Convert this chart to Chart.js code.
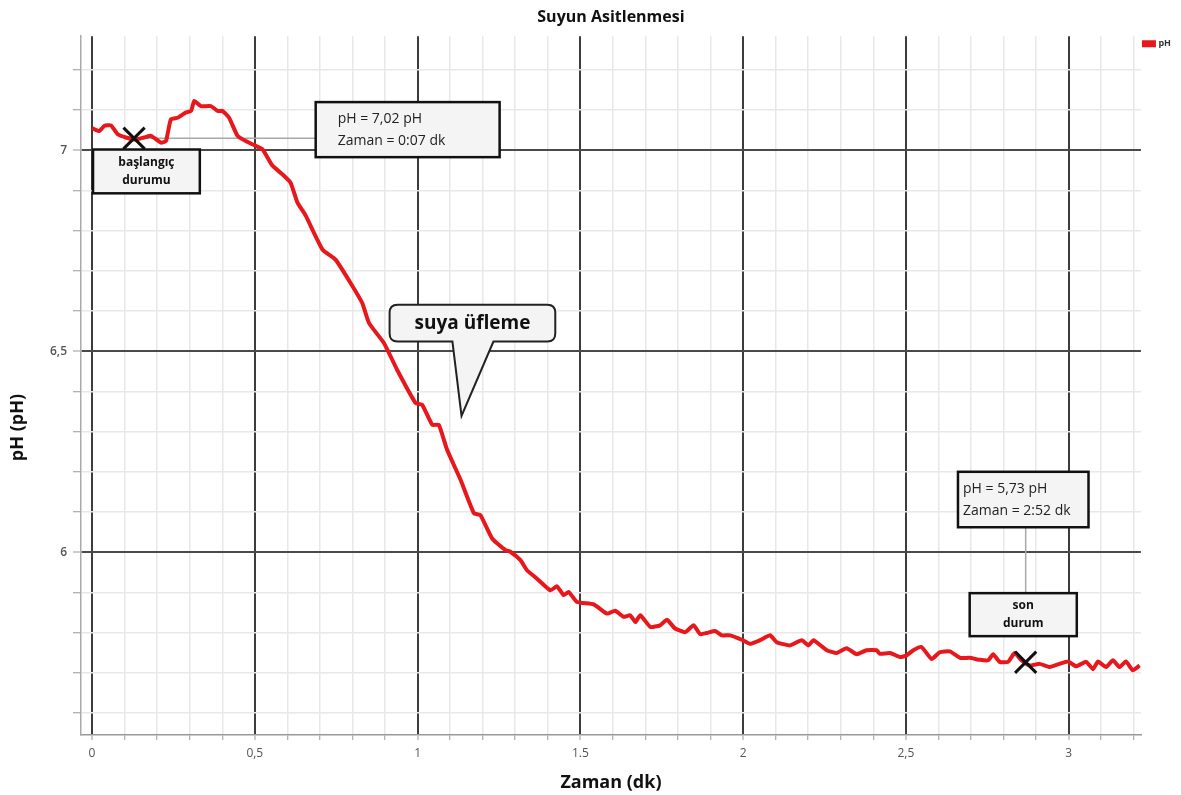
<!DOCTYPE html>
<html>
<head>
<meta charset="utf-8">
<title>Suyun Asitlenmesi</title>
<script src="https://cdn.jsdelivr.net/npm/chart.js@4.4.1/dist/chart.umd.min.js"></script>
<style>
  html, body { margin: 0; padding: 0; background: #fff; }
  #wrap { width: 1181px; height: 795px; }
</style>
</head>
<body>
<div id="wrap"><canvas id="chart"></canvas></div>
<script>
// time (dk) and pH readings
const times = [0, 0.022, 0.038, 0.058, 0.079, 0.104, 0.135, 0.16, 0.181, 0.212, 0.227, 0.242, 0.263, 0.288, 0.304,
  0.314, 0.334, 0.365, 0.386, 0.401, 0.421, 0.447, 0.472, 0.503, 0.524, 0.554, 0.585, 0.61, 0.631, 0.656,
  0.708, 0.748, 0.794, 0.83, 0.851, 0.897, 0.937, 0.994, 1.014, 1.045, 1.065, 1.091, 1.132, 1.173, 1.193,
  1.229, 1.27, 1.285, 1.316, 1.336, 1.367, 1.408, 1.428, 1.449, 1.464, 1.49, 1.541, 1.582, 1.607, 1.633,
  1.653, 1.669, 1.684, 1.715, 1.745, 1.766, 1.791, 1.822, 1.848, 1.868, 1.889, 1.914, 1.935, 1.96, 1.996,
  2.021, 2.052, 2.083, 2.103, 2.144, 2.18, 2.201, 2.216, 2.257, 2.287, 2.318, 2.349, 2.379, 2.41, 2.42,
  2.451, 2.482, 2.502, 2.523, 2.548, 2.579, 2.604, 2.635, 2.666, 2.696, 2.727, 2.753, 2.768, 2.788, 2.814,
  2.834, 2.855, 2.88, 2.911, 2.942, 2.972, 2.998, 3.023, 3.054, 3.075, 3.09, 3.115, 3.136, 3.156, 3.176,
  3.197, 3.218];
const phValues = [7.055, 7.048, 7.061, 7.062, 7.04, 7.032, 7.027, 7.032, 7.036, 7.019, 7.023, 7.077, 7.081, 7.094, 7.098,
  7.123, 7.11, 7.11, 7.098, 7.098, 7.081, 7.036, 7.023, 7.011, 7.002, 6.962, 6.94, 6.919, 6.87, 6.838,
  6.753, 6.728, 6.67, 6.62, 6.57, 6.52, 6.454, 6.371, 6.367, 6.317, 6.317, 6.254, 6.18, 6.097, 6.092,
  6.034, 6.005, 6.001, 5.98, 5.955, 5.934, 5.905, 5.915, 5.893, 5.901, 5.876, 5.87, 5.847, 5.854, 5.839,
  5.843, 5.826, 5.843, 5.814, 5.818, 5.832, 5.81, 5.801, 5.818, 5.796, 5.799, 5.804, 5.793, 5.793, 5.782,
  5.772, 5.781, 5.793, 5.776, 5.768, 5.781, 5.768, 5.781, 5.756, 5.749, 5.761, 5.746, 5.756, 5.756, 5.747,
  5.749, 5.739, 5.743, 5.756, 5.764, 5.734, 5.751, 5.753, 5.737, 5.737, 5.732, 5.731, 5.746, 5.727, 5.727,
  5.749, 5.731, 5.718, 5.722, 5.714, 5.722, 5.728, 5.716, 5.727, 5.709, 5.728, 5.714, 5.731, 5.714, 5.728,
  5.706, 5.718];

// start / end markers
const markerTimes = [0.129, 2.868];
const markerValues = [7.03, 5.726];

// axes
const xMajorTicks = [0, 0.5, 1, 1.5, 2, 2.5, 3];
const xMajorLabels = ['0', '0,5', '1', '1.5', '2', '2,5', '3'];
const yMajorTicks = [6, 6.5, 7];
const yMajorLabels = ['6', '6,5', '7'];
const xRange = [-0.034, 3.222];
const yRange = [5.545, 7.284];
const minorStep = 0.1;
const yTitle = 'pH (pH)';
const yTitleAt = 6.31;

const FONT = "'Open Sans', 'Noto Sans', sans-serif";

function stepTicks(lo, hi) {
  const out = [];
  for (let v = Math.ceil(lo / minorStep); v * minorStep <= hi + 1e-9; v++) {
    out.push({ value: Math.round(v * minorStep * 10) / 10 });
  }
  return out;
}

function majorIndex(list, v) {
  return list.findIndex(m => Math.abs(m - v) < 1e-6);
}

// annotation boxes, in data coordinates
const notes = {
  valueBoxes: [
    { x1: 0.687, y1: 7.12, x2: 1.252, y2: 6.983, pad: 22, lines: ['pH = 7,02 pH', 'Zaman = 0:07 dk'] },
    { x1: 2.66, y1: 6.2, x2: 3.061, y2: 6.062, pad: 5, lines: ['pH = 5,73 pH', 'Zaman = 2:52 dk'] }
  ],
  stateBoxes: [
    { x1: 0.003, y1: 7.002, x2: 0.331, y2: 6.893, lines: ['başlangıç', 'durumu'] },
    { x1: 2.696, y1: 5.898, x2: 3.025, y2: 5.791, lines: ['son', 'durum'] }
  ],
  bubble: { x1: 0.914, y1: 6.616, x2: 1.423, y2: 6.524, tailL: 1.107, tailR: 1.233, tipX: 1.135, tipY: 6.339, text: 'suya üfleme' }
};

const notesPlugin = {
  id: 'notes',
  beforeDatasetsDraw(chart) {
    const { ctx, scales: { x, y } } = chart;
    ctx.save();
    ctx.strokeStyle = '#a8a8a8';
    ctx.lineWidth = 1.5;
    // leader from start marker to first value box
    const b1 = notes.valueBoxes[0];
    ctx.beginPath();
    ctx.moveTo(x.getPixelForValue(markerTimes[0]), y.getPixelForValue(markerValues[0]));
    ctx.lineTo(x.getPixelForValue(b1.x1), y.getPixelForValue(markerValues[0]));
    ctx.stroke();
    // leader from end marker up to second value box
    const b2 = notes.valueBoxes[1];
    ctx.beginPath();
    ctx.moveTo(x.getPixelForValue(markerTimes[1]), y.getPixelForValue(b2.y2));
    ctx.lineTo(x.getPixelForValue(markerTimes[1]), y.getPixelForValue(notes.stateBoxes[1].y1));
    ctx.stroke();
    ctx.restore();
  },
  afterDatasetDraw(chart, args) {
    if (args.index !== 0) return;
    const { ctx, scales: { x, y } } = chart;
    const rect = (b) => {
      const l = x.getPixelForValue(b.x1), t = y.getPixelForValue(b.y1);
      const r = x.getPixelForValue(b.x2), btm = y.getPixelForValue(b.y2);
      ctx.fillStyle = '#f4f4f4';
      ctx.fillRect(l, t, r - l, btm - t);
      ctx.strokeStyle = '#111';
      ctx.lineWidth = 2.5;
      ctx.strokeRect(l, t, r - l, btm - t);
      return { l, t, r, btm };
    };
    ctx.save();
    notes.valueBoxes.forEach(b => {
      const p = rect(b);
      ctx.fillStyle = '#222';
      ctx.font = '14px ' + FONT;
      ctx.textAlign = 'left';
      ctx.textBaseline = 'middle';
      const mid = (p.t + p.btm) / 2;
      ctx.fillText(b.lines[0], p.l + b.pad, mid - 11);
      ctx.fillText(b.lines[1], p.l + b.pad, mid + 11);
    });
    notes.stateBoxes.forEach(b => {
      const p = rect(b);
      ctx.fillStyle = '#111';
      ctx.font = 'bold 12px ' + FONT;
      ctx.textAlign = 'center';
      ctx.textBaseline = 'middle';
      const cx = (p.l + p.r) / 2, mid = (p.t + p.btm) / 2;
      ctx.fillText(b.lines[0], cx, mid - 9);
      ctx.fillText(b.lines[1], cx, mid + 9);
    });
    // speech bubble
    const s = notes.bubble;
    const l = x.getPixelForValue(s.x1), t = y.getPixelForValue(s.y1);
    const r = x.getPixelForValue(s.x2), btm = y.getPixelForValue(s.y2);
    const rad = 8;
    ctx.beginPath();
    ctx.moveTo(l + rad, t);
    ctx.lineTo(r - rad, t);
    ctx.quadraticCurveTo(r, t, r, t + rad);
    ctx.lineTo(r, btm - rad);
    ctx.quadraticCurveTo(r, btm, r - rad, btm);
    ctx.lineTo(x.getPixelForValue(s.tailR), btm);
    ctx.lineTo(x.getPixelForValue(s.tipX), y.getPixelForValue(s.tipY));
    ctx.lineTo(x.getPixelForValue(s.tailL), btm);
    ctx.lineTo(l + rad, btm);
    ctx.quadraticCurveTo(l, btm, l, btm - rad);
    ctx.lineTo(l, t + rad);
    ctx.quadraticCurveTo(l, t, l + rad, t);
    ctx.closePath();
    ctx.fillStyle = '#f4f4f4';
    ctx.fill();
    ctx.strokeStyle = '#222';
    ctx.lineWidth = 2;
    ctx.stroke();
    ctx.fillStyle = '#111';
    ctx.font = 'bold 19px ' + FONT;
    ctx.textAlign = 'center';
    ctx.textBaseline = 'middle';
    ctx.fillText(s.text, (l + r) / 2, (t + btm) / 2);
    ctx.restore();
  },
  afterDraw(chart) {
    // y axis title sits lower than the axis middle in the original
    const { ctx, scales: { y } } = chart;
    ctx.save();
    ctx.translate(18, y.getPixelForValue(yTitleAt));
    ctx.rotate(-Math.PI / 2);
    ctx.fillStyle = '#111';
    ctx.font = 'bold 18px ' + FONT;
    ctx.textAlign = 'center';
    ctx.textBaseline = 'middle';
    ctx.fillText(yTitle, 0, 0);
    ctx.restore();
  }
};

new Chart(document.getElementById('chart'), {
  type: 'line',
  data: {
    datasets: [
      {
        label: 'pH',
        data: times.map((t, i) => ({ x: t, y: phValues[i] })),
        borderColor: '#e8171b',
        backgroundColor: '#e8171b',
        borderWidth: 4,
        pointRadius: 0,
        tension: 0.15,
        order: 1
      },
      {
        label: 'marker',
        data: markerTimes.map((t, i) => ({ x: t, y: markerValues[i] })),
        showLine: false,
        pointStyle: 'crossRot',
        pointRadius: 15,
        borderColor: '#111',
        pointBorderWidth: 3,
        order: 0
      }
    ]
  },
  options: {
    responsive: true,
    maintainAspectRatio: false,
    animation: false,
    layout: { padding: { left: 44, right: 0, top: 2, bottom: 1 } },
    plugins: {
      title: {
        display: true,
        text: 'Suyun Asitlenmesi',
        fullSize: false,
        color: '#111',
        font: { family: FONT, size: 16, weight: 'bold' },
        padding: { top: 6, bottom: 9 }
      },
      legend: {
        position: 'right',
        align: 'start',
        fullSize: false,
        labels: {
          filter: item => item.text === 'pH',
          boxWidth: 10,
          boxHeight: 3,
          padding: 3,
          color: '#333',
          font: { family: FONT, size: 9, weight: 'bold' }
        }
      },
      tooltip: { enabled: false }
    },
    scales: {
      x: {
        type: 'linear',
        min: xRange[0],
        max: xRange[1],
        afterBuildTicks: scale => { scale.ticks = stepTicks(0, xRange[1]); },
        ticks: {
          autoSkip: false,
          maxRotation: 0,
          color: '#555',
          padding: 6,
          font: { family: FONT, size: 12 },
          callback: v => { const i = majorIndex(xMajorTicks, v); return i < 0 ? '' : xMajorLabels[i]; }
        },
        grid: {
          color: c => majorIndex(xMajorTicks, c.tick.value) < 0 ? '#e8e8e8' : '#3c3c3c',
          lineWidth: c => majorIndex(xMajorTicks, c.tick.value) < 0 ? 1.5 : 2,
          tickColor: '#999',
          tickWidth: 1,
          tickLength: 5
        },
        border: { display: true, color: '#999', width: 1.5 },
        title: {
          display: true,
          text: 'Zaman (dk)',
          color: '#111',
          font: { family: FONT, size: 18, weight: 'bold' },
          padding: { top: 6, bottom: 0 }
        }
      },
      y: {
        min: yRange[0],
        max: yRange[1],
        afterBuildTicks: scale => { scale.ticks = stepTicks(yRange[0], yRange[1]); },
        ticks: {
          autoSkip: false,
          color: '#555',
          padding: 6,
          font: { family: FONT, size: 12, weight: '600' },
          callback: v => { const i = majorIndex(yMajorTicks, v); return i < 0 ? '' : yMajorLabels[i]; }
        },
        grid: {
          color: c => majorIndex(yMajorTicks, c.tick.value) < 0 ? '#e8e8e8' : '#4a4a4a',
          lineWidth: c => majorIndex(yMajorTicks, c.tick.value) < 0 ? 1.5 : 2,
          tickColor: '#999',
          tickWidth: 1,
          tickLength: 8
        },
        border: { display: true, color: '#aaa', width: 1.5 },
        title: { display: false }
      }
    }
  },
  plugins: [notesPlugin]
});
</script>
</body>
</html>
